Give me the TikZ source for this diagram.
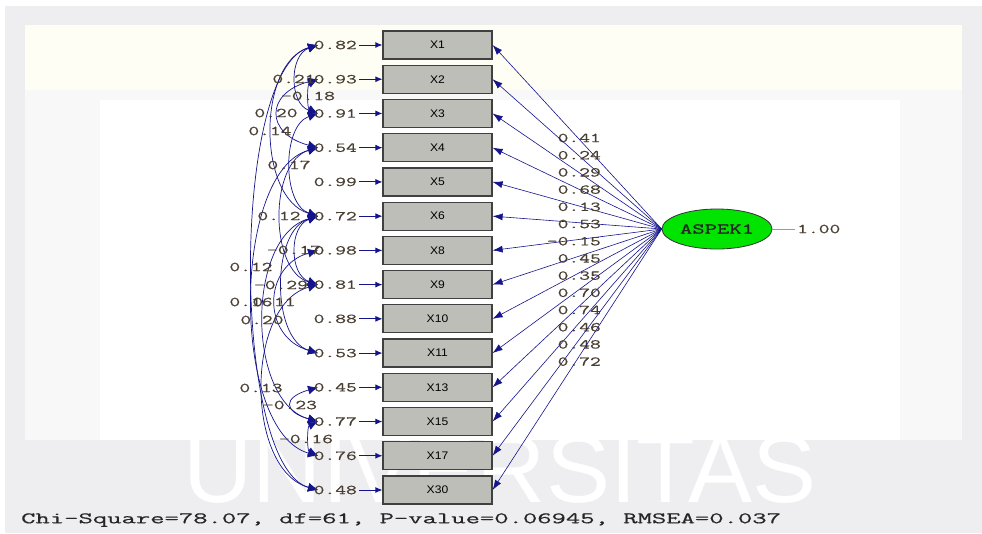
\documentclass[tikz,border=0pt]{standalone}
\usepackage{fontspec}
\usetikzlibrary{arrows.meta,shapes.geometric}
\newfontfamily\numfont[FakeStretch=1.55,FakeBold=0.6]{Latin Modern Mono}
\newfontfamily\latfont[FakeStretch=1.6,FakeBold=1.5]{Latin Modern Mono}
\newfontfamily\chifont[FakeStretch=1.74,FakeBold=0.6]{Latin Modern Mono}
\newfontfamily\boxfont[FakeStretch=1.1]{Liberation Sans}
\newfontfamily\wmfont{Liberation Sans}
\definecolor{navy}{RGB}{20,20,140}
\definecolor{numcol}{RGB}{72,62,50}
\definecolor{boxfill}{RGB}{190,190,184}
\definecolor{frame}{RGB}{238,238,241}
\definecolor{cream}{RGB}{255,254,244}
\definecolor{lgreen}{RGB}{0,228,0}
\tikzset{
  obs/.style={draw=black!75, line width=1.2pt, fill=boxfill, minimum width=109pt, minimum height=28pt, inner sep=0pt, font=\boxfont\fontsize{11}{11}\selectfont},
  num/.style={text=numcol, font=\numfont\fontsize{13.5}{13.5}\selectfont, inner sep=1pt},
  err/.style={draw=navy, line width=0.9pt, arrows={-Latex[length=7pt,width=6pt]}},
  load/.style={draw=navy, line width=0.6pt, arrows={-Latex[length=10pt,width=7pt]}},
  cov/.style={draw=navy, line width=0.7pt, arrows={Latex[length=10pt,width=9pt]-Latex[length=10pt,width=9pt]}},
  latent/.style={ellipse, draw=black!80, line width=0.8pt, fill=lgreen, minimum width=110pt, minimum height=40pt, inner sep=0pt, text=black!85, font=\latfont\fontsize{15}{15}\selectfont}
}
\begin{document}
\begin{tikzpicture}[x=1pt,y=-1pt]
\useasboundingbox (0,0) rectangle (982,533);
% background
\fill[white] (0,0) rectangle (982,533);
\fill[frame] (5,6) rectangle (982,533);
\fill[cream] (25,25) rectangle (962,90);
\fill[white!60!frame] (25,90) rectangle (962,440);
\fill[white] (100,100) rectangle (900,440);
\node[text=white, font=\wmfont\fontsize{96}{96}\selectfont, inner sep=0pt] (wm) at (500,469) {UNIVERSITAS};
% latent
\node[latent] (asp) at (717,229) {ASPEK1};
\coordinate (var) at (795,229);
\draw[black!40, line width=0.8pt] (asp.east) -- (var);
\node[num, anchor=west, inner sep=0pt] (one) at (var) {\hspace{2pt}1.00};
% error coordinates
\foreach \i/\n in {1/X1,2/X2,3/X3,4/X4,5/X5,6/X6,7/X8,8/X9,9/X10,10/X11,11/X13,12/X15,13/X17,14/X30}{
  \pgfmathsetmacro\yy{45+34.23*(\i-1)}
  \coordinate (e\n) at (318,\yy);
}
% covariances
\draw[cov] (eX1) .. controls +(-29,10) and +(-29,-10) .. (eX3);
\draw[cov] (eX2) .. controls +(-11,5) and +(-11,-5) .. (eX3);
\draw[cov] (eX2) .. controls +(-53,14) and +(-53,-14) .. (eX4);
\draw[cov] (eX1) .. controls +(-61,18) and +(-61,-18) .. (eX6);
\draw[cov] (eX3) .. controls +(-36,12) and +(-36,-12) .. (eX6);
\draw[cov] (eX4) .. controls +(-49,14) and +(-49,-14) .. (eX9);
\draw[cov] (eX6) .. controls +(-29,10) and +(-29,-10) .. (eX9);
\draw[cov] (eX1) .. controls +(-87,24) and +(-87,-24) .. (eX30);
\draw[cov] (eX6) .. controls +(-47,14) and +(-47,-14) .. (eX11);
\draw[cov] (eX4) .. controls +(-87,24) and +(-87,-24) .. (eX17);
\draw[cov] (eX8) .. controls +(-56,16) and +(-56,-16) .. (eX11);
\draw[cov] (eX6) .. controls +(-72,20) and +(-72,-20) .. (eX15);
\draw[cov] (eX9) .. controls +(-73,20) and +(-73,-20) .. (eX30);
\draw[cov] (eX13) .. controls +(-35,10) and +(-35,-10) .. (eX15);
\draw[cov] (eX15) .. controls +(-11,5) and +(-11,-5) .. (eX17);
% covariance labels
\node[num] (c1) at (294,79) {0.21};
\node[num] (c2) at (308,96) {-0.18};
\node[num] (c3) at (276,113) {0.20};
\node[num] (c4) at (270,131) {0.14};
\node[num] (c5) at (289,165) {0.17};
\node[num] (c6) at (279,216) {0.12};
\node[num] (c7) at (294,250) {-0.17};
\node[num] (c8) at (251,267) {0.12};
\node[num] (c9) at (281,285) {-0.29};
\node[num] (c10) at (251,302) {0.16};
\node[num] (c11) at (274,302) {0.11};
\node[num] (c12) at (262,320) {0.20};
\node[num] (c13) at (261,388) {0.13};
\node[num] (c14) at (290,405) {-0.23};
\node[num] (c15) at (306,439) {-0.16};
% observed variables, errors, loadings
\foreach \i/\n/\ev/\ld in {1/X1/0.82/0.41, 2/X2/0.93/0.24, 3/X3/0.91/0.29, 4/X4/0.54/0.68, 5/X5/0.99/0.13, 6/X6/0.72/0.53, 7/X8/0.98/-0.15, 8/X9/0.81/0.45, 9/X10/0.88/0.35, 10/X11/0.53/0.70, 11/X13/0.45/0.74, 12/X15/0.77/0.46, 13/X17/0.76/0.48, 14/X30/0.48/0.72}{
  \pgfmathsetmacro\yy{45+34.23*(\i-1)}
  \pgfmathsetmacro\ly{138+17.2*(\i-1)}
  \node[obs] (\n) at (437.5,\yy) {\n};
  \node[num, anchor=east, inner sep=2pt] (ev\n) at (359,\yy) {\ev};
  \draw[err] (ev\n) -- (\n);
  \draw[load] (asp.west) -- (\n.east);
  \node[num, anchor=east, inner sep=0pt] (ld\n) at (601,\ly) {\ld};
}
% fit statistics
\node[anchor=west, text=black!85, font=\chifont\fontsize{16}{16}\selectfont, inner sep=0pt] (chi) at (21,520) {Chi-Square=78.07, df=61, P-value=0.06945, RMSEA=0.037};
\end{tikzpicture}
\end{document}
